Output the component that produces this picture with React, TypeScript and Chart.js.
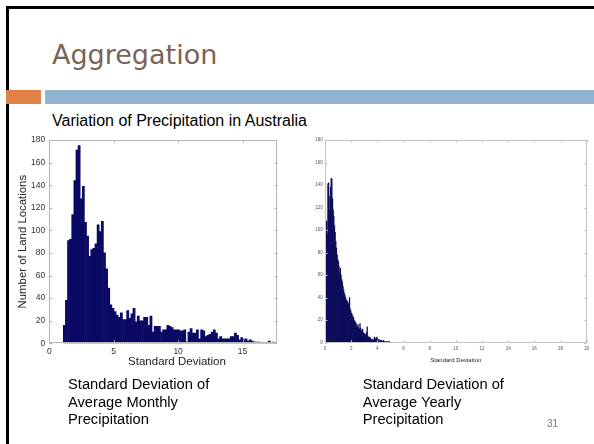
import React, { useEffect, useRef } from "react";
import { Chart, registerables } from "chart.js";

Chart.register(...registerables);

// ---- Data ----
const LEFT_BIN_START = 1.085;
const LEFT_BIN_WIDTH = 0.164;
const leftCounts = [
  16, 38, 91, 92, 114, 144, 171, 175, 128, 139,
  107, 95, 77, 83, 84, 88, 105, 99, 108, 80,
  66, 49, 34, 31, 28, 25, 23, 27, 21, 21,
  29, 22, 26, 31, 19, 24, 20, 20, 23, 23,
  16, 24, 10, 15, 15, 15, 10, 12, 12, 16,
  15, 14, 12, 12, 12, 11, 11, 12, 1, 10,
  13, 9, 9, 12, 4, 12, 11, 6, 7, 8,
  10, 12, 9, 4, 6, 4, 4, 4, 4, 6,
  6, 9, 7, 3, 5, 3, 4, 2, 3, 2,
  1, 1, 1, 0, 0, 0, 0, 2, 0, 1,
];

const RIGHT_BIN_START = 0;
const RIGHT_BIN_WIDTH = 0.05;
const rightCounts = [
  20, 106, 108, 96, 141, 142, 118, 130, 138, 146,
  145, 128, 118, 112, 104, 98, 90, 84, 78, 74,
  72, 68, 62, 66, 60, 56, 54, 50, 47, 44,
  42, 40, 38, 36, 37, 34, 35, 40, 30, 28,
  26, 25, 22, 23, 20, 19, 18, 17, 15, 14,
  16, 13, 12, 17, 13, 11, 10, 12, 9, 8,
  8, 7, 7, 9, 14, 6, 5, 4, 5, 4,
  3, 3, 2, 3, 2, 5, 4, 3, 4, 5,
  3, 2, 3, 1, 2, 1, 2, 1, 1, 2,
  1, 1, 0, 1, 1, 0, 1, 0, 1, 0,
];

const leftXTicks = [0, 5, 10, 15];
const rightXTicks = [0, 2, 4, 6, 8, 10, 12, 14, 16, 18, 20];
const yTicks = [0, 20, 40, 60, 80, 100, 120, 140, 160, 180];

const LEFT_X_MAX = 17.7;
const RIGHT_X_MAX = 20;
const Y_MAX = 180;

function boxPlugin(color: string, tickLen: number) {
  return {
    id: "matlabBox",
    afterDatasetsDraw(chart: any) {
      const { ctx, chartArea: a, scales } = chart;
      const x = scales.x;
      const y = scales.y;
      ctx.save();
      ctx.strokeStyle = color;
      ctx.lineWidth = 1;
      ctx.beginPath();
      x.ticks.forEach((t: any) => {
        const px = Math.round(x.getPixelForValue(t.value)) + 0.5;
        ctx.moveTo(px, a.bottom);
        ctx.lineTo(px, a.bottom - tickLen);
        ctx.moveTo(px, a.top);
        ctx.lineTo(px, a.top + tickLen);
      });
      y.ticks.forEach((t: any) => {
        const py = Math.round(y.getPixelForValue(t.value)) + 0.5;
        ctx.moveTo(a.left, py);
        ctx.lineTo(a.left + tickLen, py);
        ctx.moveTo(a.right, py);
        ctx.lineTo(a.right - tickLen, py);
      });
      ctx.stroke();
      ctx.strokeRect(
        Math.round(a.left) + 0.5,
        Math.round(a.top) + 0.5,
        Math.round(a.right - a.left) - 1,
        Math.round(a.bottom - a.top) - 1
      );
      ctx.restore();
    },
  };
}

function makeHist(
  canvas: HTMLCanvasElement,
  opts: {
    counts: number[];
    binStart: number;
    binWidth: number;
    xTicks: number[];
    xMax: number;
    barColor: string;
    padding: any;
    yWidth: number;
    xHeight: number;
    tickFont: number;
    tickColor: string;
    yPad: number;
    xPad: number;
    yTitle?: string;
    yTitleFont?: number;
    yTitlePad?: number;
    xTitle?: string;
    xTitleFont?: number;
    xTitlePad?: number;
    boxColor: string;
    tickLen: number;
  }
) {
  const data = opts.counts.map((c, i) => ({
    x: opts.binStart + (i + 0.5) * opts.binWidth,
    y: c,
  }));
  return new Chart(canvas, {
    type: "bar",
    data: {
      datasets: [
        {
          data,
          backgroundColor: opts.barColor,
          borderWidth: 0,
          barPercentage: 1,
          categoryPercentage: 1,
        } as any,
      ],
    },
    options: {
      responsive: false,
      animation: false,
      devicePixelRatio: 1,
      events: [],
      layout: { padding: opts.padding },
      plugins: {
        legend: { display: false },
        tooltip: { enabled: false },
        title: { display: false },
      },
      scales: {
        x: {
          type: "linear",
          min: 0,
          max: opts.xMax,
          offset: false,
          grid: { display: false, drawTicks: false },
          border: { display: false },
          afterBuildTicks: (s: any) => {
            s.ticks = opts.xTicks.map((v) => ({ value: v }));
          },
          afterFit: (s: any) => {
            s.height = opts.xHeight;
          },
          ticks: {
            autoSkip: false,
            maxRotation: 0,
            padding: opts.xPad,
            color: opts.tickColor,
            font: { family: "Liberation Sans, Arial, sans-serif", size: opts.tickFont },
            callback: (v: any) => String(v),
          },
          title: opts.xTitle
            ? {
                display: true,
                text: opts.xTitle,
                color: "#222",
                padding: { top: 0, bottom: opts.xTitlePad ?? 0 },
                font: { family: "Liberation Sans, Arial, sans-serif", size: opts.xTitleFont },
              }
            : { display: false },
        },
        y: {
          min: 0,
          max: Y_MAX,
          grid: { display: false, drawTicks: false },
          border: { display: false },
          afterBuildTicks: (s: any) => {
            s.ticks = yTicks.map((v) => ({ value: v }));
          },
          afterFit: (s: any) => {
            s.width = opts.yWidth;
          },
          ticks: {
            autoSkip: false,
            padding: opts.yPad,
            color: opts.tickColor,
            font: { family: "Liberation Sans, Arial, sans-serif", size: opts.tickFont },
            callback: (v: any) => String(v),
          },
          title: opts.yTitle
            ? {
                display: true,
                text: opts.yTitle,
                color: "#222",
                padding: { top: opts.yTitlePad ?? 0, bottom: 0 },
                font: { family: "Liberation Sans, Arial, sans-serif", size: opts.yTitleFont },
              }
            : { display: false },
        },
      },
    } as any,
    plugins: [boxPlugin(opts.boxColor, opts.tickLen)],
  });
}

export default function App() {
  const leftRef = useRef<HTMLCanvasElement>(null);
  const rightRef = useRef<HTMLCanvasElement>(null);

  useEffect(() => {
    const left = makeHist(leftRef.current!, {
      counts: leftCounts,
      binStart: LEFT_BIN_START,
      binWidth: LEFT_BIN_WIDTH,
      xTicks: leftXTicks,
      xMax: LEFT_X_MAX,
      barColor: "#0a0a64",
      padding: { left: 0, top: 12, right: 14.7, bottom: 0 },
      yWidth: 49.3,
      xHeight: 28.7,
      tickFont: 8.5,
      tickColor: "#333",
      yPad: 4,
      xPad: 3,
      yTitle: "Number of Land Locations",
      yTitleFont: 11.4,
      yTitlePad: 16,
      boxColor: "#b4b4b4",
      tickLen: 3,
    });
    const right = makeHist(rightRef.current!, {
      counts: rightCounts,
      binStart: RIGHT_BIN_START,
      binWidth: RIGHT_BIN_WIDTH,
      xTicks: rightXTicks,
      xMax: RIGHT_X_MAX,
      barColor: "#0c0c5a",
      padding: { left: 0, top: 12, right: 7.3, bottom: 0 },
      yWidth: 25,
      xHeight: 29.3,
      tickFont: 4.5,
      tickColor: "#555",
      yPad: 2.3,
      xPad: 3,
      xTitle: "Standard Deviation",
      xTitleFont: 6,
      xTitlePad: 8.4,
      boxColor: "#c4c4c4",
      tickLen: 2.5,
    });
    return () => {
      left.destroy();
      right.destroy();
    };
  }, []);

  const sans = "'Liberation Sans', Arial, sans-serif";

  return (
    <div
      style={{
        position: "absolute",
        left: 0,
        top: 0,
        width: 594,
        height: 444,
        background: "#fff",
        overflow: "hidden",
      }}
    >
      {/* frame lines */}
      <div style={{ position: "absolute", left: 6, top: 6, width: 588, height: 3, background: "#000" }} />
      <div style={{ position: "absolute", left: 6, top: 6, width: 3, height: 438, background: "#000" }} />
      {/* accent bars */}
      <div style={{ position: "absolute", left: 6, top: 90, width: 35, height: 14, background: "#df8146" }} />
      <div style={{ position: "absolute", left: 45, top: 90, width: 549, height: 14, background: "#93b4d0" }} />
      {/* title */}
      <div
        style={{
          position: "absolute",
          left: 52,
          top: 41,
          fontFamily: "'DejaVu Sans', sans-serif",
          fontSize: 27,
          lineHeight: "27px",
          color: "#7a6357",
          whiteSpace: "nowrap",
        }}
      >
        Aggregation
      </div>
      {/* subtitle */}
      <div
        style={{
          position: "absolute",
          left: 52,
          top: 112.5,
          fontFamily: sans,
          fontSize: 16,
          lineHeight: "16px",
          color: "#000",
          whiteSpace: "nowrap",
        }}
      >
        Variation of Precipitation in Australia
      </div>

      <div style={{ position: "absolute", left: 0, top: 128, width: 292, height: 244 }}>
        <canvas ref={leftRef} width={292} height={244} style={{ display: "block" }} />
      </div>
      <div style={{ position: "absolute", left: 300, top: 128, width: 294, height: 244 }}>
        <canvas ref={rightRef} width={294} height={244} style={{ display: "block" }} />
      </div>

      {/* left x-axis title */}
      <div
        style={{
          position: "absolute",
          left: 117,
          top: 354.5,
          width: 120,
          textAlign: "center",
          fontFamily: sans,
          fontSize: 11.5,
          lineHeight: "13px",
          color: "#222",
          whiteSpace: "nowrap",
        }}
      >
        Standard Deviation
      </div>

      {/* captions */}
      <div
        style={{
          position: "absolute",
          left: 68,
          top: 376.2,
          fontFamily: sans,
          fontSize: 14.7,
          lineHeight: "17.5px",
          color: "#000",
          whiteSpace: "nowrap",
        }}
      >
        Standard Deviation of
        <br />
        Average Monthly
        <br />
        Precipitation
      </div>
      <div
        style={{
          position: "absolute",
          left: 362.7,
          top: 376.2,
          fontFamily: sans,
          fontSize: 14.7,
          lineHeight: "17.5px",
          color: "#000",
          whiteSpace: "nowrap",
        }}
      >
        Standard Deviation of
        <br />
        Average Yearly
        <br />
        Precipitation
      </div>
      {/* page number */}
      <div
        style={{
          position: "absolute",
          left: 547,
          top: 418,
          fontFamily: sans,
          fontSize: 10,
          lineHeight: "12px",
          color: "#8a7464",
          whiteSpace: "nowrap",
        }}
      >
        31
      </div>
    </div>
  );
}
